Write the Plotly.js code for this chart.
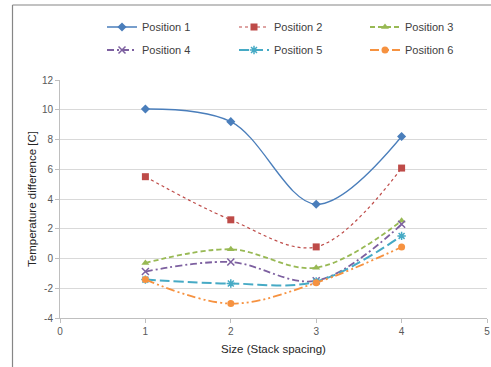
<!DOCTYPE html>
<html>
<head>
<meta charset="utf-8">
<script src="https://cdn.plot.ly/plotly-3.0.1.min.js"></script>
<style>
html,body{margin:0;padding:0;background:#fff;}
#chart{width:491px;height:367px;}
</style>
</head>
<body>
<div id="chart"></div>
<script>
const sizes = [1, 2, 3, 4];
const seriesNames = ["Position 1", "Position 2", "Position 3", "Position 4", "Position 5", "Position 6"];
const pos1 = [10.05, 9.2, 3.65, 8.2];
const pos2 = [5.5, 2.6, 0.78, 6.08];
const pos3 = [-0.3, 0.62, -0.62, 2.53];
const pos4 = [-0.88, -0.24, -1.5, 2.3];
const pos5 = [-1.42, -1.68, -1.55, 1.52];
const pos6 = [-1.42, -3.03, -1.63, 0.77];
const xTicks = [0, 1, 2, 3, 4, 5];
const yTicks = [-4, -2, 0, 2, 4, 6, 8, 10, 12];

const values = [pos1, pos2, pos3, pos4, pos5, pos6];
const colors = ["#4A7EBB", "#BE4B48", "#98B954", "#7D60A0", "#46AAC5", "#F69240"];
const dashes = ["solid", "dot", "5px,3px", "7px,3px,2px,3px", "10px,4px", "9px,3px,2px,3px,2px,3px"];
const widths = [1.3, 1.2, 1.8, 1.8, 2, 1.8];
const symbols = ["diamond", "square", "triangle-up", "x-thin-open", "asterisk-open", "circle"];
const msizes = [7, 7, 7, 7, 7, 7];
const legendIds = ["legend", "legend2", "legend3", "legend4", "legend5", "legend6"];

const traces = values.map((v, i) => ({
  x: sizes, y: v, name: seriesNames[i], type: "scatter", mode: "lines+markers",
  legend: legendIds[i],
  line: {color: colors[i], width: widths[i], dash: dashes[i], shape: "spline", smoothing: 1},
  marker: {symbol: symbols[i], size: msizes[i], color: colors[i], line: {color: colors[i], width: (i === 3 || i === 4) ? 1.5 : 0}}
}));

const legendCommon = {orientation: "h", xanchor: "left", yanchor: "middle",
  font: {family: "Liberation Sans, Arial", size: 11, color: "#404040"},
  bgcolor: "rgba(0,0,0,0)", itemwidth: 30};
const colPx = [102, 234, 365];
const rowPx = [27, 50];

const layout = {
  width: 491, height: 367,
  margin: {l: 60, r: 4, t: 80, b: 49},
  paper_bgcolor: "#fff", plot_bgcolor: "#fff",
  font: {family: "Liberation Sans, Arial", color: "#404040"},
  showlegend: true,
  xaxis: {
    range: [0, 5], tickvals: xTicks, ticktext: xTicks.map(String),
    showgrid: false, zeroline: false, showline: true, linecolor: "#BFBFBF", linewidth: 1,
    ticks: "outside", ticklen: 4, tickcolor: "#BFBFBF",
    tickfont: {family: "Liberation Sans, Arial", size: 10, color: "#595959"},
    title: {text: "Size (Stack spacing)", font: {family: "Liberation Sans, Arial", size: 11.5, color: "#262626"}, standoff: 8}
  },
  yaxis: {
    range: [-4, 12], tickvals: yTicks, ticktext: yTicks.map(String),
    showgrid: true, gridcolor: "#D9D9D9", gridwidth: 1, zeroline: false,
    showline: true, linecolor: "#BFBFBF", linewidth: 1,
    ticks: "outside", ticklen: 4, tickcolor: "#BFBFBF",
    tickfont: {family: "Liberation Sans, Arial", size: 10, color: "#595959"},
    title: {text: "Temperature difference [C]", font: {family: "Liberation Sans, Arial", size: 11.5, color: "#262626"}, standoff: 2}
  },
  shapes: [
    {type: "line", xref: "paper", yref: "paper", x0: (12.5 - 60) / 427, x1: (12.5 - 60) / 427, y0: (318 - 367) / 238, y1: (318 - 5) / 238, line: {color: "#868686", width: 1.2}},
    {type: "line", xref: "paper", yref: "paper", x0: (12.5 - 60) / 427, x1: (491 - 60) / 427, y0: (318 - 5) / 238, y1: (318 - 5) / 238, line: {color: "#868686", width: 1.2}}
  ]
};
legendIds.forEach((id, i) => {
  layout[id] = Object.assign({}, legendCommon, {
    x: (colPx[i % 3] - 60) / 427,
    y: (318 - rowPx[Math.floor(i / 3)]) / 238
  });
});

Plotly.newPlot("chart", traces, layout, {displayModeBar: false, staticPlot: true});
</script>
</body>
</html>
